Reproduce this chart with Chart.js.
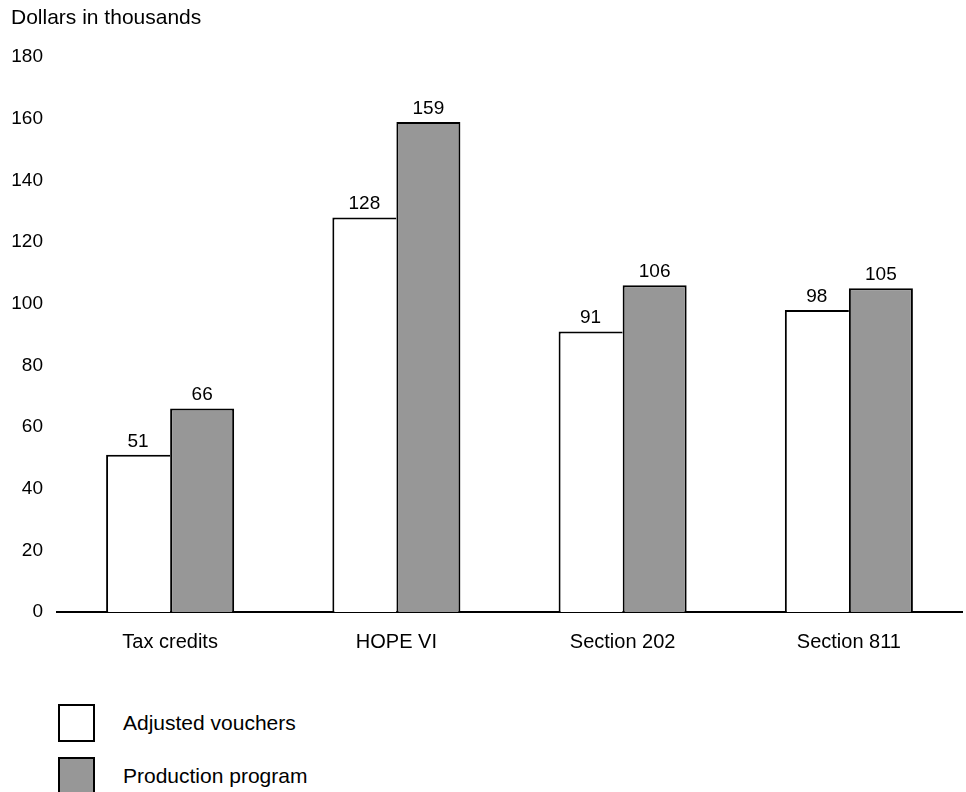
<!DOCTYPE html>
<html>
<head>
<meta charset="utf-8">
<script src="https://cdn.jsdelivr.net/npm/chart.js@4"></script>
<style>
  body { margin: 0; background: #fff; font-family: "Liberation Sans", Arial, sans-serif; }
  #wrap { position: relative; width: 966px; height: 680px; }
  #legend { position: absolute; left: 58px; top: 704px; }
  .item { display: flex; align-items: center; height: 38px; margin-bottom: 15px; font-size: 21px; color: #000; }
  .box { box-sizing: border-box; width: 37px; height: 38px; border: 2px solid #000; margin-right: 28px; }
</style>
</head>
<body>
<div id="wrap"><canvas id="grafico"></canvas></div>
<div id="legend"></div>
<script>
// dados
const categorias = ['Tax credits', 'HOPE VI', 'Section 202', 'Section 811'];
const vouchers = [51, 128, 91, 98];
const producao = [66, 159, 106, 105];
const series = ['Adjusted vouchers', 'Production program'];

const fonte = '"Liberation Sans", Arial, sans-serif';

// rótulos em cima das barras
const rotulos = {
  id: 'rotulos',
  afterDatasetsDraw(chart) {
    const ctx = chart.ctx;
    ctx.save();
    ctx.font = '19px ' + fonte;
    ctx.fillStyle = '#000';
    ctx.textAlign = 'center';
    ctx.textBaseline = 'bottom';
    chart.data.datasets.forEach((ds, i) => {
      chart.getDatasetMeta(i).data.forEach((bar, j) => {
        ctx.fillText(ds.data[j], bar.x, bar.y - 4);
      });
    });
    ctx.restore();
  }
};

const ctx = document.getElementById('grafico').getContext('2d');
const grafico = new Chart(ctx, {
  type: 'bar',
  data: {
    labels: categorias,
    datasets: [
      { label: series[0], data: vouchers, backgroundColor: '#ffffff', borderColor: '#000',
        borderWidth: { top: 2, left: 2, right: 0, bottom: 0 } },
      { label: series[1], data: producao, backgroundColor: '#979797', borderColor: '#000',
        borderWidth: { top: 2, left: 2, right: 2, bottom: 0 } }
    ]
  },
  options: {
    responsive: true,
    maintainAspectRatio: false,
    animation: false,
    layout: { padding: { left: 0, right: 4, top: 0, bottom: 16 } },
    datasets: { bar: { categoryPercentage: 0.566, barPercentage: 1 } },
    plugins: {
      legend: { display: false },
      tooltip: { enabled: false },
      title: {
        display: true,
        text: 'Dollars in thousands',
        align: 'start',
        color: '#000',
        font: { size: 21, family: fonte, weight: 'normal' },
        padding: { top: 6, bottom: 26 }
      }
    },
    scales: {
      x: {
        grid: { display: false },
        border: { color: '#000', width: 2 },
        ticks: { color: '#000', padding: 10, font: { size: 20, family: fonte } }
      },
      y: {
        min: 0, max: 180,
        grid: { display: false, drawTicks: false },
        border: { display: false },
        ticks: { stepSize: 20, color: '#000', padding: 14, font: { size: 19, family: fonte } },
        afterFit: s => { s.width = 57; }
      }
    }
  },
  plugins: [rotulos, {
    // desloca o título para alinhar com os rótulos do eixo
    id: 'tituloX',
    beforeDraw(chart) { chart.titleBlock.left = 11; }
  }]
});

// legenda
const cores = ['#ffffff', '#979797'];
document.getElementById('legend').innerHTML = series.map((s, i) =>
  `<div class="item"><span class="box" style="background:${cores[i]}"></span>${s}</div>`).join('');
</script>
</body>
</html>
